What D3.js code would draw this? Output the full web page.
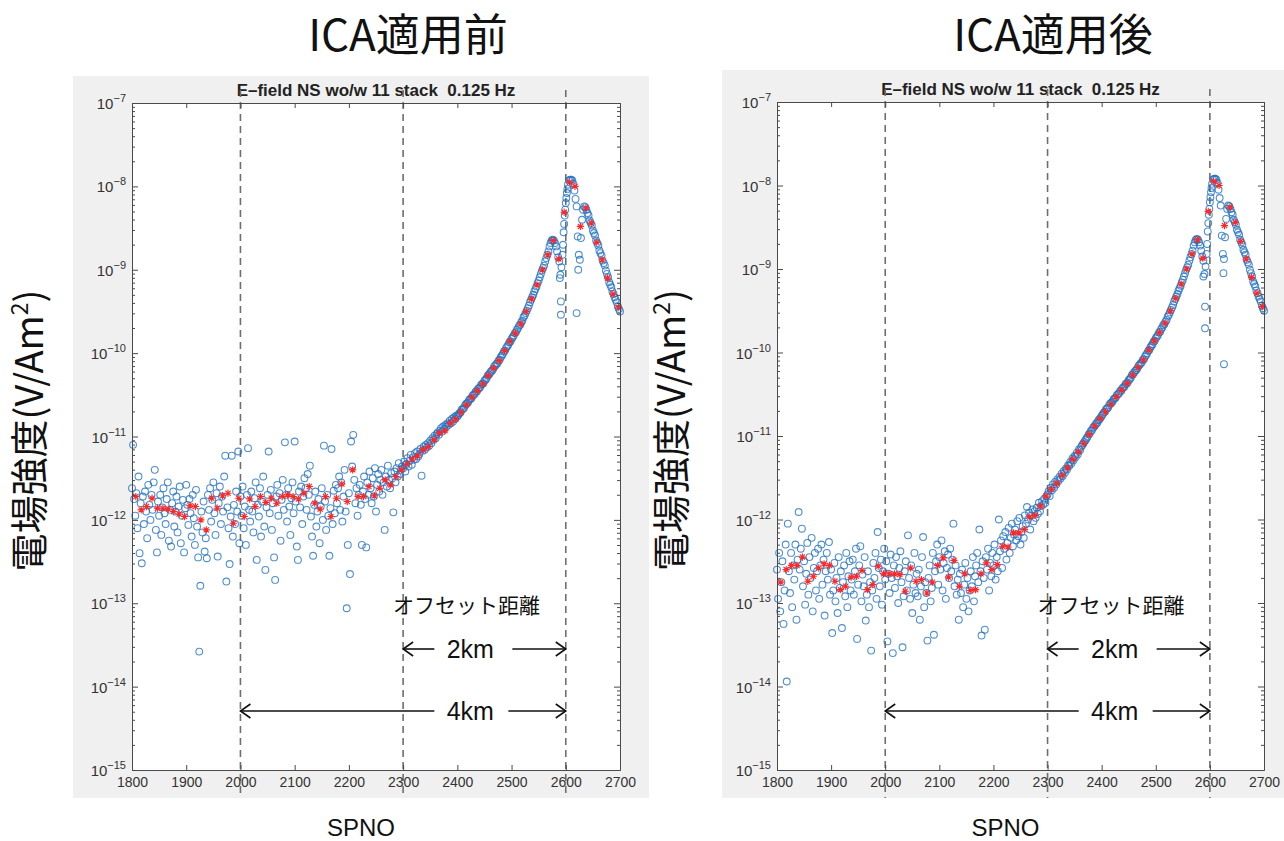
<!DOCTYPE html>
<html>
<head>
<meta charset="utf-8">
<script src="https://cdn.jsdelivr.net/npm/d3@7"></script>
<style>
body { margin: 0; background: #fff; overflow: hidden; }
text { font-family: "Liberation Sans", Arial, sans-serif; }
.jp { font-family: "Noto Sans CJK JP", "Noto Sans", sans-serif; }
</style>
</head>
<body>
<svg id="chart" width="1284" height="841"></svg>
<script>
// values are log10 of the field strength (V/Am^2)
var lowSpno = d3.range(1800, 2400, 2);      // 300 samples
var curveSpno = d3.range(2400, 2701, 2);    // 151 samples
var lowStarSpno = d3.range(1807, 2400, 10); // 60 stacked averages
var curveStarSpno = d3.range(2407, 2700, 10);
var guideSpno = [2000, 2300, 2600];

// before ICA, 1800-2398
var leftLow = [
  -11.62,-11.10,-11.75,-11.95,-11.68,-12.10,-11.48,-12.40,-11.80,-12.52,
  -11.72,-12.05,-11.66,-11.90,-12.22,-11.58,-11.82,-12.00,-11.70,-11.88,
  -11.55,-11.40,-12.12,-12.39,-11.78,-11.95,-11.70,-12.18,-11.85,-11.62,
  -11.92,-12.05,-11.75,-11.55,-12.25,-11.88,-12.32,-11.80,-11.66,-12.08,
  -11.90,-11.72,-12.15,-11.84,-11.60,-12.28,-11.95,-11.76,-12.39,-11.86,
  -11.58,-11.82,-12.06,-11.75,-11.92,-12.20,-11.70,-11.98,-12.30,-11.64,
  -12.08,-12.45,-13.58,-12.79,-11.90,-12.15,-11.78,-12.38,-12.22,-12.46,
  -11.70,-11.88,-11.62,-12.02,-11.76,-11.55,-11.92,-12.18,-11.68,-12.44,
  -11.80,-11.60,-12.05,-11.72,-11.90,-11.48,-11.23,-12.74,-11.85,-12.10,
  -12.53,-11.96,-11.23,-12.20,-11.82,-12.05,-11.66,-11.90,-11.18,-12.28,
  -11.72,-11.95,-11.60,-12.10,-11.84,-12.30,-11.70,-11.14,-11.88,-12.02,
  -11.66,-11.90,-12.15,-11.74,-11.55,-12.48,-11.82,-11.96,-11.62,-12.20,
  -11.78,-11.48,-12.08,-12.60,-11.85,-11.70,-11.18,-11.92,-11.64,-12.12,
  -11.80,-12.45,-12.72,-11.72,-11.58,-11.95,-11.68,-12.25,-11.76,-11.52,
  -11.88,-11.07,-11.70,-12.02,-11.62,-11.84,-12.18,-11.74,-11.55,-11.92,
  -11.06,-11.78,-12.32,-12.48,-11.66,-11.85,-11.60,-12.05,-11.72,-11.50,
  -11.62,-11.88,-11.45,-11.70,-11.35,-11.96,-12.20,-12.43,-11.82,-11.66,
  -12.08,-11.90,-11.75,-12.28,-11.84,-11.62,-12.00,-11.11,-11.78,-12.12,
  -11.70,-11.95,-12.43,-11.86,-11.15,-12.05,-11.65,-11.92,-11.58,-11.80,
  -11.62,-11.48,-11.88,-11.55,-12.02,-11.72,-11.40,-11.90,-13.06,-12.30,
  -11.68,-12.65,-11.06,-11.36,-10.98,-11.52,-11.80,-11.62,-11.95,-11.70,
  -11.58,-11.82,-12.30,-11.66,-11.48,-11.75,-12.33,-11.55,-11.70,-11.42,
  -11.62,-11.80,-11.50,-11.72,-11.38,-11.90,-11.58,-11.45,-11.66,-11.52,
  -11.40,-11.70,-11.55,-12.12,-11.48,-11.60,-11.35,-11.52,-11.62,-11.44,
  -11.50,-11.91,-11.42,-11.55,-11.38,-11.48,-11.32,-11.45,-11.40,-11.36,
  -11.38,-11.30,-11.42,-11.33,-11.26,-11.36,-11.29,-11.22,-11.34,-11.25,
  -11.28,-11.20,-11.27,-11.18,-11.24,-11.21,-11.15,-11.47,-11.17,-11.12,
  -11.16,-11.10,-11.13,-11.08,-11.11,-11.05,-11.08,-11.02,-11.04,-10.99,
  -11.02,-10.97,-10.95,-10.98,-10.93,-10.90,-10.94,-10.88,-10.91,-10.86,
  -10.88,-10.84,-10.86,-10.81,-10.84,-10.79,-10.82,-10.77,-10.79,-10.75
];

// after ICA, 1800-2398
var rightLow = [
  -12.60,-12.95,-12.40,-13.10,-12.75,-12.50,-13.25,-12.85,-12.30,-13.94,
  -12.05,-12.62,-12.88,-12.40,-13.05,-12.55,-12.72,-12.30,-13.20,-12.48,
  -11.91,-12.60,-12.35,-12.11,-12.80,-12.50,-13.02,-12.65,-12.28,-12.90,
  -12.45,-12.70,-12.22,-13.10,-12.58,-12.40,-12.85,-12.62,-12.35,-12.95,
  -12.55,-12.30,-12.78,-12.48,-13.15,-12.62,-12.40,-12.72,-12.27,-12.90,
  -12.60,-13.36,-12.85,-12.52,-12.98,-12.70,-13.12,-12.45,-12.82,-12.62,
  -13.30,-12.75,-12.55,-12.92,-12.40,-13.05,-12.68,-12.50,-12.85,-12.72,
  -12.48,-12.90,-12.62,-12.35,-13.43,-12.78,-12.55,-12.32,-12.98,-12.66,
  -12.80,-12.45,-13.21,-12.90,-12.62,-13.05,-12.75,-13.57,-12.85,-12.52,
  -12.70,-12.40,-12.95,-12.15,-12.58,-12.80,-12.48,-13.02,-12.62,-12.35,
  -12.72,-12.50,-13.46,-12.65,-12.88,-12.42,-12.70,-13.60,-12.55,-12.82,
  -12.45,-12.68,-13.00,-12.58,-12.38,-12.75,-13.53,-12.92,-12.62,-12.50,
  -12.85,-12.19,-12.70,-12.95,-12.55,-13.12,-12.78,-12.40,-12.88,-12.65,
  -12.92,-12.60,-13.20,-12.80,-12.45,-12.21,-13.05,-12.75,-12.88,-13.45,
  -12.70,-12.55,-12.98,-12.82,-12.40,-13.38,-12.62,-12.50,-12.30,-12.78,
  -12.45,-12.60,-12.25,-12.85,-12.52,-12.38,-12.95,-12.58,-12.42,-12.70,
  -12.35,-12.62,-12.48,-12.05,-12.80,-12.55,-12.90,-12.72,-13.20,-12.65,
  -12.88,-12.60,-13.05,-12.78,-12.52,-12.95,-12.70,-13.10,-12.85,-12.62,
  -12.80,-12.45,-12.98,-12.68,-12.55,-12.40,-12.75,-12.12,-12.62,-13.39,
  -12.50,-12.70,-13.32,-12.45,-12.60,-12.35,-12.85,-12.52,-12.68,-12.40,
  -12.55,-12.30,-12.72,-12.45,-12.62,-12.00,-12.38,-12.25,-12.58,-12.20,
  -12.35,-12.15,-12.48,-12.28,-12.10,-12.40,-12.22,-12.05,-12.32,-12.18,
  -12.12,-12.25,-12.02,-12.20,-11.98,-12.30,-12.15,-12.08,-12.22,-11.95,
  -12.05,-11.85,-12.00,-11.92,-12.12,-11.95,-11.88,-12.02,-11.90,-11.98,
  -11.86,-11.93,-11.80,-11.90,-11.84,-11.78,-11.82,-11.75,-11.80,-11.72,
  -11.70,-11.66,-11.72,-11.62,-11.65,-11.58,-11.62,-11.55,-11.58,-11.52,
  -11.54,-11.49,-11.51,-11.45,-11.48,-11.42,-11.44,-11.39,-11.40,-11.35,
  -11.36,-11.31,-11.33,-11.27,-11.29,-11.24,-11.25,-11.20,-11.22,-11.16,
  -11.17,-11.13,-11.11,-11.09,-11.07,-11.05,-11.03,-11.01,-10.98,-10.97,
  -10.94,-10.93,-10.90,-10.89,-10.87,-10.85,-10.84,-10.81,-10.80,-10.78
];

// 2400-2700, same in both panels
var curve = [
  -10.76,-10.74,-10.72,-10.71,-10.68,-10.67,-10.66,-10.63,-10.61,-10.60,
  -10.59,-10.56,-10.55,-10.54,-10.51,-10.50,-10.49,-10.46,-10.46,-10.43,
  -10.42,-10.41,-10.38,-10.37,-10.36,-10.33,-10.32,-10.30,-10.27,-10.26,
  -10.24,-10.22,-10.21,-10.19,-10.16,-10.15,-10.13,-10.12,-10.09,-10.08,
  -10.05,-10.03,-10.01,-9.98,-9.97,-9.94,-9.92,-9.90,-9.87,-9.86,
  -9.83,-9.81,-9.79,-9.76,-9.75,-9.72,-9.70,-9.67,-9.66,-9.63,
  -9.61,-9.57,-9.55,-9.52,-9.49,-9.46,-9.43,-9.39,-9.36,-9.33,
  -9.30,-9.26,-9.23,-9.20,-9.16,-9.13,-9.09,-9.05,-9.01,-8.98,
  -8.95,-8.90,-8.86,-8.82,-8.78,-8.72,-8.68,-8.65,-8.64,-8.65,
  -8.68,-8.72,-8.78,-8.85,-8.90,-9.06,-8.97,-8.82,-8.55,-8.35,
  -8.20,-8.08,-7.98,-7.93,-7.92,-7.92,-7.93,-7.97,-8.05,-8.15,
  -8.24,-8.60,-8.82,-8.88,-8.62,-8.40,-8.28,-8.24,-8.25,-8.28,
  -8.32,-8.35,-8.41,-8.44,-8.47,-8.53,-8.56,-8.59,-8.65,-8.68,
  -8.71,-8.77,-8.80,-8.83,-8.89,-8.92,-8.95,-9.01,-9.05,-9.09,
  -9.15,-9.18,-9.21,-9.26,-9.29,-9.33,-9.36,-9.39,-9.44,-9.47,
  -9.50
];

// extra circles on the steep edge below the main peak (both panels)
var edgeSpno = [2595, 2597, 2599, 2601, 2603];
var edgeVal = [-8.70, -8.45, -8.28, -8.14, -8.03];

// stray low circles near the peaks
var leftStraySpno = [2589, 2591, 2591, 2620, 2623];
var leftStrayVal = [-9.10, -9.38, -9.54, -9.52, -9.00];
var rightStraySpno = [2588, 2591, 2591, 2625, 2626];
var rightStrayVal = [-9.09, -9.45, -9.71, -9.05, -10.14];

// red asterisks: 11-stack averages
var leftStars = [
  -11.72,-11.88,-11.84,-11.74,-11.86,-11.86,-11.87,-11.90,-11.93,-11.96,
  -11.83,-11.84,-12.00,-12.12,-11.74,-11.86,-11.71,-11.68,-12.04,-11.74,
  -11.96,-11.75,-11.84,-11.72,-11.79,-11.74,-11.80,-11.72,-11.70,-11.72,
  -11.75,-11.68,-11.60,-11.80,-11.87,-11.72,-11.96,-11.74,-11.57,-11.78,
  -11.40,-11.72,-11.72,-11.60,-11.71,-11.62,-11.52,-11.58,-11.48,-11.40,
  -11.33,-11.27,-11.23,-11.16,-11.12,-11.04,-10.96,-10.93,-10.84,-10.79
];
var rightStars = [
  -12.75,-12.60,-12.55,-12.55,-12.45,-12.74,-12.68,-12.58,-12.53,-12.55,
  -12.74,-12.84,-12.80,-12.69,-12.68,-12.61,-12.84,-12.78,-12.56,-12.65,
  -12.65,-12.65,-12.66,-12.86,-12.58,-12.74,-12.72,-12.88,-12.75,-12.55,
  -12.46,-12.69,-12.49,-12.80,-12.65,-12.85,-12.84,-12.65,-12.52,-12.60,
  -12.54,-12.32,-12.33,-12.16,-12.16,-12.12,-11.97,-11.95,-11.84,-11.72,
  -11.64,-11.57,-11.47,-11.38,-11.28,-11.19,-11.09,-10.98,-10.88,-10.79
];
var curveStars = [
  -10.71,-10.62,-10.53,-10.45,-10.37,-10.27,-10.18,-10.09,-9.97,-9.86,
  -9.76,-9.65,-9.50,-9.35,-9.18,-9.00,-8.82,-8.65,-8.87,-8.31,
  -7.95,-8.00,-8.48,-8.26,-8.44,-8.67,-8.88,-9.10,-9.29,-9.45
];

var panels = [
  { title: "ICA適用前", titleX: 408, bg: [73, 76, 576, 722], box: [132, 103, 620, 770],
    labelX: 30, low: leftLow, stars: leftStars, straySpno: leftStraySpno, strayVal: leftStrayVal },
  { title: "ICA適用後", titleX: 1053, bg: [722, 70, 562, 728], box: [777, 102, 1264, 770],
    labelX: 672, low: rightLow, stars: rightStars, straySpno: rightStraySpno, strayVal: rightStrayVal }
];

var svg = d3.select("#chart");
var axisColor = "#4a4a4a";

function toPoints(spno, vals) {
  return vals.map(function (v, i) { return { s: spno[i], v: Math.pow(10, v) }; });
}

panels.forEach(function (p) {
  var g = svg.append("g");
  var left = p.box[0], top = p.box[1], right = p.box[2], bottom = p.box[3];
  var x = d3.scaleLinear().domain([1800, 2700]).range([left, right]);
  var y = d3.scaleLog().domain([1e-15, 1e-7]).range([bottom, top]);

  g.append("rect")
    .attr("x", p.bg[0]).attr("y", p.bg[1])
    .attr("width", p.bg[2]).attr("height", p.bg[3])
    .attr("fill", "#f0f0f0");
  g.append("rect")
    .attr("x", left).attr("y", top)
    .attr("width", right - left).attr("height", bottom - top)
    .attr("fill", "#fff");

  // big title
  svg.append("text").attr("class", "jp")
    .attr("x", p.titleX).attr("y", 51)
    .attr("text-anchor", "middle")
    .style("font-size", "44px").attr("fill", "#111")
    .text(p.title);

  // subtitle
  g.append("text")
    .attr("x", (left + right) / 2).attr("y", top - 7)
    .attr("text-anchor", "middle")
    .style("white-space", "pre")
    .style("font-size", "17px").style("font-weight", "bold").attr("fill", "#222")
    .text("E–field NS wo/w 11 stack  0.125 Hz");

  // dashed guide lines
  g.selectAll(".guide").data(guideSpno).enter().append("line")
    .attr("x1", function (d) { return x(d); })
    .attr("x2", function (d) { return x(d); })
    .attr("y1", top - 13).attr("y2", p.bg[1] + p.bg[3])
    .attr("stroke", "#6e6e6e").attr("stroke-width", 1.6)
    .attr("stroke-dasharray", "7,5");

  // scatter circles
  var pts = toPoints(lowSpno, p.low)
    .concat(toPoints(curveSpno, curve))
    .concat(toPoints(edgeSpno, edgeVal))
    .concat(toPoints(p.straySpno, p.strayVal));
  g.append("g").selectAll("circle").data(pts).enter().append("circle")
    .attr("cx", function (d) { return x(d.s); })
    .attr("cy", function (d) { return y(d.v); })
    .attr("r", 3.4)
    .attr("fill", "none")
    .attr("stroke", "#1f6fc0")
    .attr("stroke-opacity", 0.78)
    .attr("stroke-width", 1.1);

  // red asterisks
  var starPts = toPoints(lowStarSpno, p.stars).concat(toPoints(curveStarSpno, curveStars));
  var star = "M-3.6,0H3.6M0,-3.6V3.6M-2.6,-2.6L2.6,2.6M-2.6,2.6L2.6,-2.6";
  g.append("g").selectAll("path").data(starPts).enter().append("path")
    .attr("d", star)
    .attr("transform", function (d) { return "translate(" + x(d.s) + "," + y(d.v) + ")"; })
    .attr("fill", "none").attr("stroke", "#ff2626").attr("stroke-width", 1.1);

  // axes, ticks inward like MATLAB
  var xTicks = d3.range(1800, 2701, 100);
  var xb = g.append("g").attr("transform", "translate(0," + bottom + ")")
    .call(d3.axisBottom(x).tickValues(xTicks).tickSize(-5).tickSizeOuter(0).tickPadding(7).tickFormat(d3.format("d")));
  var xt = g.append("g").attr("transform", "translate(0," + top + ")")
    .call(d3.axisTop(x).tickValues(xTicks).tickSize(-5).tickSizeOuter(0).tickFormat(""));

  var allY = y.ticks();
  var major = allY.filter(function (d) { return Math.abs(Math.log10(d) - Math.round(Math.log10(d))) < 1e-6; });
  var minor = allY.filter(function (d) { return major.indexOf(d) < 0; });
  var yl = g.append("g").attr("transform", "translate(" + left + ",0)")
    .call(d3.axisLeft(y).tickValues(minor).tickSize(-3).tickSizeOuter(0).tickFormat(""));
  var yl2 = g.append("g").attr("transform", "translate(" + left + ",0)")
    .call(d3.axisLeft(y).tickValues(major).tickSize(-6).tickSizeOuter(0).tickFormat(""));
  var yr = g.append("g").attr("transform", "translate(" + right + ",0)")
    .call(d3.axisRight(y).tickValues(minor).tickSize(-3).tickSizeOuter(0).tickFormat(""));
  var yr2 = g.append("g").attr("transform", "translate(" + right + ",0)")
    .call(d3.axisRight(y).tickValues(major).tickSize(-6).tickSizeOuter(0).tickFormat(""));

  [xb, xt, yl, yl2, yr, yr2].forEach(function (a) {
    a.selectAll("path, line").attr("stroke", axisColor);
    a.selectAll("text").style("font-size", "14px").attr("fill", "#333")
      .style("font-family", "'Liberation Sans', Arial, sans-serif");
  });

  // power-of-ten labels
  var lab = g.selectAll(".ylab").data(major).enter().append("text")
    .attr("x", left - 6)
    .attr("y", function (d) { return y(d) + 6; })
    .attr("text-anchor", "end")
    .attr("fill", "#333")
    .style("font-size", "15px");
  lab.append("tspan").text("10");
  lab.append("tspan").attr("dy", -7).style("font-size", "11px")
    .text(function (d) { return "−" + Math.round(-Math.log10(d)); });

  // axis titles
  g.append("text").attr("class", "jp")
    .attr("transform", "translate(" + (p.labelX + 13) + "," + ((top + bottom) / 2 - 6) + ") rotate(-90)")
    .attr("text-anchor", "middle")
    .style("font-size", "38px").attr("fill", "#111")
    .call(function (t) {
      t.append("tspan").text("電場強度(V/Am");
      t.append("tspan").attr("dy", -15).style("font-size", "23px").text("2");
      t.append("tspan").attr("dy", 15).text(")");
    });
  g.append("text")
    .attr("x", (left + right) / 2 - 15).attr("y", 836)
    .attr("text-anchor", "middle")
    .style("font-size", "24px").attr("fill", "#111")
    .text("SPNO");

  // offset annotations
  var mid = x(2424);
  g.append("text").attr("class", "jp")
    .attr("x", x(2300) - 10).attr("y", 613)
    .style("font-size", "21px").attr("fill", "#111")
    .text("オフセット距離");

  function arrowRow(xa, yy, label, gapL, gapR) {
    var xb2 = x(2600);
    g.append("line").attr("x1", xa).attr("x2", mid - gapL).attr("y1", yy).attr("y2", yy)
      .attr("stroke", "#111").attr("stroke-width", 1.6);
    g.append("line").attr("x1", mid + gapR).attr("x2", xb2).attr("y1", yy).attr("y2", yy)
      .attr("stroke", "#111").attr("stroke-width", 1.6);
    g.append("path").attr("d", "M" + (xa + 10) + "," + (yy - 7) + "L" + xa + "," + yy + "L" + (xa + 10) + "," + (yy + 7))
      .attr("fill", "none").attr("stroke", "#111").attr("stroke-width", 1.6);
    g.append("path").attr("d", "M" + (xb2 - 10) + "," + (yy - 7) + "L" + xb2 + "," + yy + "L" + (xb2 - 10) + "," + (yy + 7))
      .attr("fill", "none").attr("stroke", "#111").attr("stroke-width", 1.6);
    g.append("text").attr("x", mid).attr("y", yy + 9)
      .attr("text-anchor", "middle")
      .style("font-size", "25px").attr("fill", "#111")
      .text(label);
  }
  arrowRow(x(2300), 649, "2km", 36, 42);
  arrowRow(x(2000), 711, "4km", 36, 38);
});
</script>
</body>
</html>
